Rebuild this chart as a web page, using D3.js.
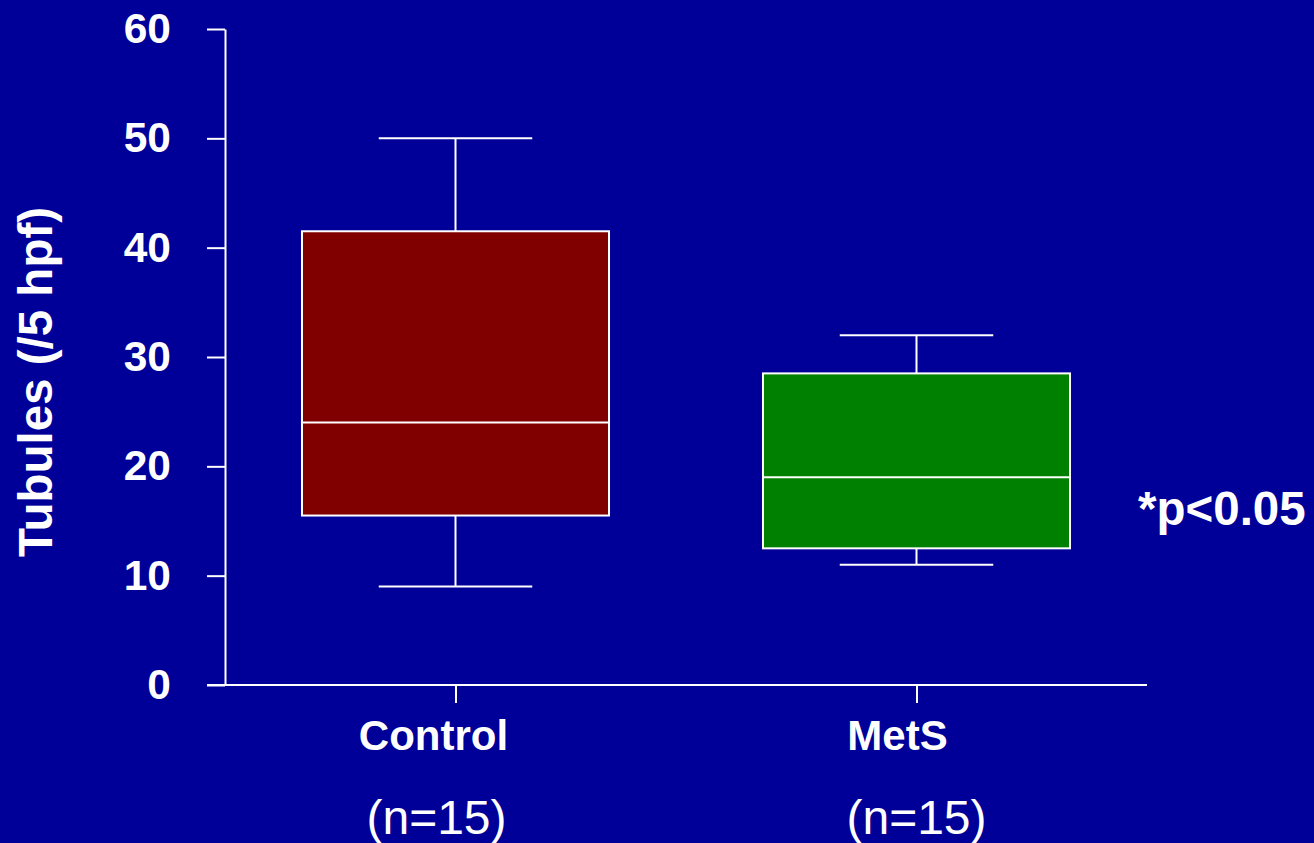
<!DOCTYPE html>
<html>
<head>
<meta charset="utf-8">
<script src="https://cdn.jsdelivr.net/npm/d3@7"></script>
<style>
  html, body { margin: 0; padding: 0; background: #000099; }
  svg { display: block; }
  text { font-family: "Liberation Sans", Arial, sans-serif; fill: #ffffff; }
</style>
</head>
<body>
<svg id="chart" width="1314" height="843"></svg>
<script>
// Box-plot summaries for tubule counts per 5 high-power fields
const groups = ["Control", "MetS"];
const groupCounts = ["(n=15)", "(n=15)"];
const whiskerLow = [9, 11];
const quartile1 = [15.5, 12.5];
const medians = [24, 19];
const quartile3 = [41.5, 28.5];
const whiskerHigh = [50, 32];
const boxColors = ["#800000", "#008000"];
const yTicks = [0, 10, 20, 30, 40, 50, 60];
const yLabel = "Tubules (/5 hpf)";
const note = "*p<0.05";

const svg = d3.select("#chart");
svg.append("rect").attr("width", 1314).attr("height", 843).attr("fill", "#000099");

const x0 = 225, x1 = 1147, yTop = 29, yBottom = 685;

const y = d3.scaleLinear().domain([0, 60]).range([yBottom, yTop]);
const x = d3.scalePoint().domain(groups).range([x0, x1]).padding(0.5);
const boxW = x.step() * 0.666;
const capW = boxW / 2;

// Label nudges relative to each tick (text boxes sit slightly left of centre)
const nameShift = [-22, -19];
const countShift = [-19, 0];

// Y axis
const yAxis = svg.append("g")
  .attr("transform", `translate(${x0},0)`)
  .call(d3.axisLeft(y).tickValues(yTicks).tickSize(18).tickSizeOuter(0).tickPadding(36).tickFormat(d3.format("d")));
yAxis.selectAll("path, line").attr("stroke", "#fff").attr("stroke-width", 2);
yAxis.selectAll("text")
  .attr("fill", "#fff")
  .style("font-size", "42.5px")
  .style("font-weight", "bold")
  .style("font-family", "'Liberation Sans', Arial, sans-serif");

// X axis baseline, reaching left to the tick start
svg.append("line")
  .attr("x1", x0 - 18).attr("x2", x1)
  .attr("y1", yBottom).attr("y2", yBottom)
  .attr("stroke", "#fff").attr("stroke-width", 2);

const xAxis = svg.append("g")
  .attr("transform", `translate(0,${yBottom})`)
  .call(d3.axisBottom(x).tickSize(18).tickSizeOuter(0).tickFormat(""));
xAxis.select("path.domain").remove();
xAxis.selectAll("line").attr("stroke", "#fff").attr("stroke-width", 2);

// Category labels and group sizes
groups.forEach((g, i) => {
  svg.append("text")
    .attr("x", x(g) + nameShift[i]).attr("y", 750)
    .attr("text-anchor", "middle")
    .style("font-size", "42px").style("font-weight", "bold")
    .text(g);
  svg.append("text")
    .attr("x", x(g) + countShift[i]).attr("y", 834)
    .attr("text-anchor", "middle")
    .style("font-size", "48px")
    .text(groupCounts[i]);
});

// Boxes and whiskers
const box = svg.append("g").attr("stroke", "#fff").attr("stroke-width", 2);
groups.forEach((g, i) => {
  const cx = x(g);
  box.append("line").attr("x1", cx).attr("x2", cx).attr("y1", y(whiskerHigh[i])).attr("y2", y(quartile3[i]));
  box.append("line").attr("x1", cx).attr("x2", cx).attr("y1", y(quartile1[i])).attr("y2", y(whiskerLow[i]));
  box.append("line").attr("x1", cx - capW / 2).attr("x2", cx + capW / 2).attr("y1", y(whiskerHigh[i])).attr("y2", y(whiskerHigh[i]));
  box.append("line").attr("x1", cx - capW / 2).attr("x2", cx + capW / 2).attr("y1", y(whiskerLow[i])).attr("y2", y(whiskerLow[i]));
  box.append("rect")
    .attr("x", cx - boxW / 2).attr("width", boxW)
    .attr("y", y(quartile3[i])).attr("height", y(quartile1[i]) - y(quartile3[i]))
    .attr("fill", boxColors[i]);
  box.append("line").attr("x1", cx - boxW / 2).attr("x2", cx + boxW / 2).attr("y1", y(medians[i])).attr("y2", y(medians[i]));
});

// Y axis title
svg.append("text")
  .attr("transform", `translate(52,${(yTop + yBottom) / 2 + 25}) rotate(-90)`)
  .attr("text-anchor", "middle")
  .style("font-size", "47.5px").style("font-weight", "bold")
  .text(yLabel);

// Significance note
svg.append("text")
  .attr("x", 1138).attr("y", 525)
  .style("font-size", "47.5px").style("font-weight", "bold")
  .text(note);
</script>
</body>
</html>
